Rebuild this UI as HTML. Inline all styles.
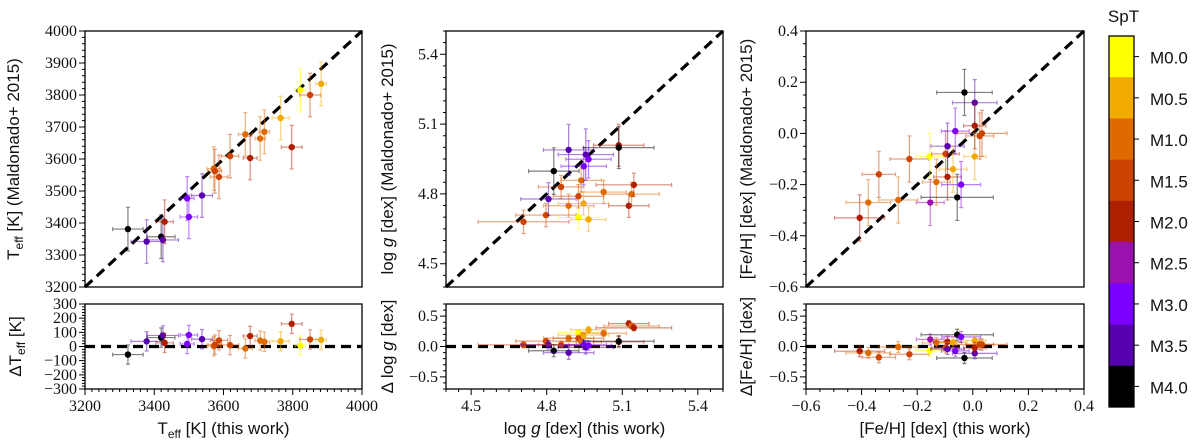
<!DOCTYPE html>
<html><head><meta charset="utf-8">
<style>
body{margin:0;background:#fff;}
svg{display:block;}
.num{font-family:"Liberation Serif",serif;font-size:16px;fill:#111;}
.lab{font-family:"Liberation Sans",sans-serif;font-size:17px;fill:#111;}
</style></head>
<body>
<svg id="chart" width="1200" height="442" viewBox="0 0 1200 442" xmlns="http://www.w3.org/2000/svg"></svg>
<script>
// SpT color classes: 0=M0.0 ... 8=M4.0
const sptLabels = ["M0.0","M0.5","M1.0","M1.5","M2.0","M2.5","M3.0","M3.5","M4.0"];
const sptColors = ["#ffff00","#f0aa00","#df6a00","#cc4400","#b01e00","#9c10b0","#7b00ff","#5600b0","#000000"];

// Panel 1: Teff
const teffThis = [3324,3378,3420,3425,3430,3495,3500,3538,3572,3575,3587,3619,3663,3677,3706,3718,3765,3797,3822,3850,3882];
const teffMald = [3381,3342,3357,3347,3404,3477,3419,3486,3570,3562,3544,3609,3677,3603,3664,3685,3728,3637,3815,3800,3835];
const teffSpt  = [8,7,8,7,4,6,6,7,2,3,3,3,2,4,2,2,1,4,0,3,1];
const teffXerr = [44,45,40,45,25,20,25,30,20,20,25,25,20,20,15,15,25,30,15,30,15];
const teffYerr = [68,68,68,68,68,68,68,68,68,68,68,68,68,68,68,68,68,68,68,68,68];

// Panel 2: log g
const loggThis = [4.708,4.797,4.807,4.828,4.857,4.887,4.887,4.926,4.926,4.937,4.946,4.947,4.955,4.966,4.966,5.026,5.086,5.086,5.126,5.137,5.146];
const loggMald = [4.68,4.709,4.778,4.898,4.83,4.989,4.749,4.699,4.79,4.858,4.759,4.919,4.969,4.949,4.69,4.808,5.009,4.999,4.749,4.799,4.839];
const loggSpt  = [3,3,7,8,3,7,2,0,3,2,1,6,7,6,1,2,4,8,4,2,4];
const loggXerr = [0.18,0.12,0.11,0.10,0.09,0.10,0.10,0.08,0.10,0.08,0.10,0.09,0.11,0.09,0.07,0.09,0.10,0.14,0.08,0.11,0.15];
const loggYerr = [0.05,0.05,0.07,0.10,0.05,0.11,0.05,0.05,0.05,0.05,0.05,0.08,0.11,0.08,0.05,0.05,0.09,0.09,0.05,0.05,0.05];

// Panel 3: [Fe/H]
const fehThis = [-0.407,-0.376,-0.338,-0.268,-0.228,-0.155,-0.153,-0.131,-0.098,-0.091,-0.091,-0.071,-0.063,-0.056,-0.042,-0.030,0.007,0.007,0.007,0.025,0.033];
const fehMald = [-0.33,-0.27,-0.16,-0.26,-0.10,-0.09,-0.27,-0.19,-0.08,-0.05,-0.17,-0.14,0.009,-0.25,-0.20,0.16,0.12,-0.09,0.03,-0.01,0.00];
const fehSpt  = [4,2,3,2,3,0,5,2,3,7,4,1,6,8,6,8,7,1,4,3,3];
const fehXerr = [0.09,0.08,0.06,0.07,0.07,0.05,0.05,0.05,0.05,0.06,0.05,0.05,0.05,0.13,0.07,0.10,0.08,0.04,0.04,0.05,0.09];
const fehYerr = [0.09,0.09,0.09,0.09,0.09,0.09,0.09,0.09,0.09,0.09,0.09,0.09,0.09,0.09,0.09,0.09,0.09,0.09,0.09,0.09,0.09];

const panels = [
  {key:"teff", x0:85, x1:362, min:3200, max:4000, major:[3200,3400,3600,3800,4000], yMajor:[3200,3300,3400,3500,3600,3700,3800,3900,4000], minor:20,
   rmin:-300, rmax:300, rMajor:[-300,-200,-100,0,100,200,300], rMinor:20,
   xs:teffThis, ys:teffMald, spt:teffSpt, xe:teffXerr, ye:teffYerr, fmt:v=>String(v), rfmt:v=>v<0?"\u2212"+(-v):String(v),
   ylab:'T<tspan font-size="12" dy="4">eff</tspan><tspan dy="-4"> [K] (Maldonado+ 2015)</tspan>', ylabX:19,
   rlab:'\u0394T<tspan font-size="12" dy="4">eff</tspan><tspan dy="-4"> [K]</tspan>', rlabX:21,
   xlab:'T<tspan font-size="12" dy="4">eff</tspan><tspan dy="-4"> [K] (this work)</tspan>'},
  {key:"logg", x0:446, x1:723, min:4.4, max:5.5, major:[4.5,4.8,5.1,5.4], yMajor:[4.5,4.8,5.1,5.4], minor:0.05,
   rmin:-0.7, rmax:0.7, rMajor:[-0.5,0,0.5], rMinor:0.1,
   xs:loggThis, ys:loggMald, spt:loggSpt, xe:loggXerr, ye:loggYerr, fmt:v=>v.toFixed(1), rfmt:v=>v<0?"\u2212"+(-v).toFixed(1):v.toFixed(1),
   ylab:'log <tspan font-style="italic">g</tspan> [dex] (Maldonado+ 2015)', ylabX:393,
   rlab:'\u0394 log <tspan font-style="italic">g</tspan> [dex]', rlabX:393,
   xlab:'log <tspan font-style="italic">g</tspan> [dex] (this work)'},
  {key:"feh", x0:806, x1:1084, min:-0.6, max:0.4, major:[-0.6,-0.4,-0.2,0,0.2,0.4], yMajor:[-0.6,-0.4,-0.2,0,0.2,0.4], minor:0.05,
   rmin:-0.7, rmax:0.7, rMajor:[-0.5,0,0.5], rMinor:0.1,
   xs:fehThis, ys:fehMald, spt:fehSpt, xe:fehXerr, ye:fehYerr, fmt:v=>v<0?"\u2212"+(-v).toFixed(1):v.toFixed(1), rfmt:v=>v<0?"\u2212"+(-v).toFixed(1):v.toFixed(1),
   ylab:'[Fe/H] [dex] (Maldonado+ 2015)', ylabX:752,
   rlab:'\u0394[Fe/H] [dex]', rlabX:752,
   xlab:'[Fe/H] [dex] (this work)'}
];
const TOP=31, BOT=287, RTOP=304, RBOT=389;
const NS="http://www.w3.org/2000/svg";
const svg=document.getElementById("chart");
function mk(tag,attrs,parent){const e=document.createElementNS(NS,tag);for(const k in attrs)e.setAttribute(k,attrs[k]);(parent||svg).appendChild(e);return e;}

panels.forEach(p=>{
  const g=mk("g",{});
  
  
  const sx=v=>p.x0+(v-p.min)/(p.max-p.min)*(p.x1-p.x0);
  const sy=v=>BOT-(v-p.min)/(p.max-p.min)*(BOT-TOP);
  const ry=v=>RBOT-(v-p.rmin)/(p.rmax-p.rmin)*(RBOT-RTOP);
  const l1=mk("line",{x1:sx(p.min),y1:sy(p.min),x2:sx(p.max),y2:sy(p.max),stroke:"#000","stroke-width":3.2,"stroke-dasharray":"10,6"},g);
  
  
  const l2=mk("line",{x1:p.x0,y1:ry(0),x2:p.x1,y2:ry(0),stroke:"#000","stroke-width":3.2,"stroke-dasharray":"10,6"},g);
  
  
  for(let i=0;i<p.xs.length;i++){
    const c=sptColors[p.spt[i]];
    const x=sx(p.xs[i]), y=sy(p.ys[i]);
    const pg=mk("g",{},g);
    
    
    const xl=sx(p.xs[i]-p.xe[i]), xr=sx(p.xs[i]+p.xe[i]);
    const yt=sy(p.ys[i]+p.ye[i]), yb=sy(p.ys[i]-p.ye[i]);
    mk("path",{d:`M${xl},${y}H${xr}M${x},${yt}V${yb}M${xl},${y-2}v4M${xr},${y-2}v4M${x-2},${yt}h4M${x-2},${yb}h4`,stroke:c,"stroke-opacity":0.5,"stroke-width":1.2,fill:"none"},pg);
    mk("circle",{cx:x,cy:y,r:3.2,fill:c},pg);
    const d=p.xs[i]-p.ys[i];
    const rg=mk("g",{},g);
    
    
    const yy=ry(d), rt=ry(d+p.ye[i]), rb=ry(d-p.ye[i]);
    mk("path",{d:`M${xl},${yy}H${xr}M${x},${rt}V${rb}M${xl},${yy-2}v4M${xr},${yy-2}v4M${x-2},${rt}h4M${x-2},${rb}h4`,stroke:c,"stroke-opacity":0.5,"stroke-width":1.2,fill:"none"},rg);
    mk("circle",{cx:x,cy:yy,r:3.2,fill:c},rg);
  }
  const f1=mk("rect",{x:p.x0,y:TOP,width:p.x1-p.x0,height:BOT-TOP,fill:"none",stroke:"#000","stroke-width":1.3},g);
  
  
  const f2=mk("rect",{x:p.x0,y:RTOP,width:p.x1-p.x0,height:RBOT-RTOP,fill:"none",stroke:"#000","stroke-width":1.3},g);
  
  
  let tk="";
  const eps=1e-9;
  for(let v=p.min;v<=p.max+eps;v+=p.minor){tk+=`M${sx(v)},${RBOT}v3M${p.x0},${sy(v)}h-3`;}
  for(let v=p.rmin;v<=p.rmax+eps;v+=p.rMinor){tk+=`M${p.x0},${ry(v)}h-3`;}
  p.major.forEach(v=>{tk+=`M${sx(v)},${RBOT}v6`;});
  p.yMajor.forEach(v=>{tk+=`M${p.x0},${sy(v)}h-6`;});
  p.rMajor.forEach(v=>{tk+=`M${p.x0},${ry(v)}h-6`;});
  mk("path",{d:tk,stroke:"#000","stroke-width":1,fill:"none"},g);
  p.major.forEach(v=>{const t=mk("text",{x:sx(v),y:RBOT+22,"text-anchor":"middle",class:"num"},g);t.textContent=p.fmt(v);
    
    });
  p.yMajor.forEach(v=>{const t=mk("text",{x:p.x0-8,y:sy(v)+5,"text-anchor":"end",class:"num"},g);t.textContent=p.fmt(v);
    
    });
  p.rMajor.forEach(v=>{const t=mk("text",{x:p.x0-8,y:ry(v)+5,"text-anchor":"end",class:"num"},g);t.textContent=p.rfmt(v);
    
    });
  const yl=mk("text",{x:0,y:0,"text-anchor":"middle",class:"lab",transform:`translate(${p.ylabX},${(TOP+BOT)/2}) rotate(-90)`},g);yl.innerHTML=p.ylab;
  
  
  const rl=mk("text",{x:0,y:0,"text-anchor":"middle",class:"lab",transform:`translate(${p.rlabX},${(RTOP+RBOT)/2}) rotate(-90)`},g);rl.innerHTML=p.rlab;
  
  
  const xl2=mk("text",{x:(p.x0+p.x1)/2,y:434,"text-anchor":"middle",class:"lab"},g);xl2.innerHTML=p.xlab;
  
  
});

const cb=mk("g",{});


const CB_X=1109, CB_W=25, CB_T=36, CB_B=407, segH=(CB_B-CB_T)/sptColors.length;
sptColors.forEach((c,i)=>{
  const r=mk("rect",{x:CB_X,y:CB_T+i*segH,width:CB_W,height:segH+0.5,fill:c},cb);
  
  
  const yy=CB_T+(i+0.5)*segH;
  mk("line",{x1:CB_X+CB_W,y1:yy,x2:CB_X+CB_W+5,y2:yy,stroke:"#000","stroke-width":1},cb);
  const t=mk("text",{x:CB_X+CB_W+16,y:yy+7,class:"lab","font-size":"20"},cb);t.textContent=sptLabels[i];
  
  
});
mk("rect",{x:CB_X,y:CB_T,width:CB_W,height:CB_B-CB_T,fill:"none",stroke:"#000","stroke-width":1.3},cb);
const ct=mk("text",{x:CB_X+CB_W/2+2,y:22,"text-anchor":"middle",class:"lab","font-size":"22"},cb);ct.textContent="SpT";


</script>
</body></html>
